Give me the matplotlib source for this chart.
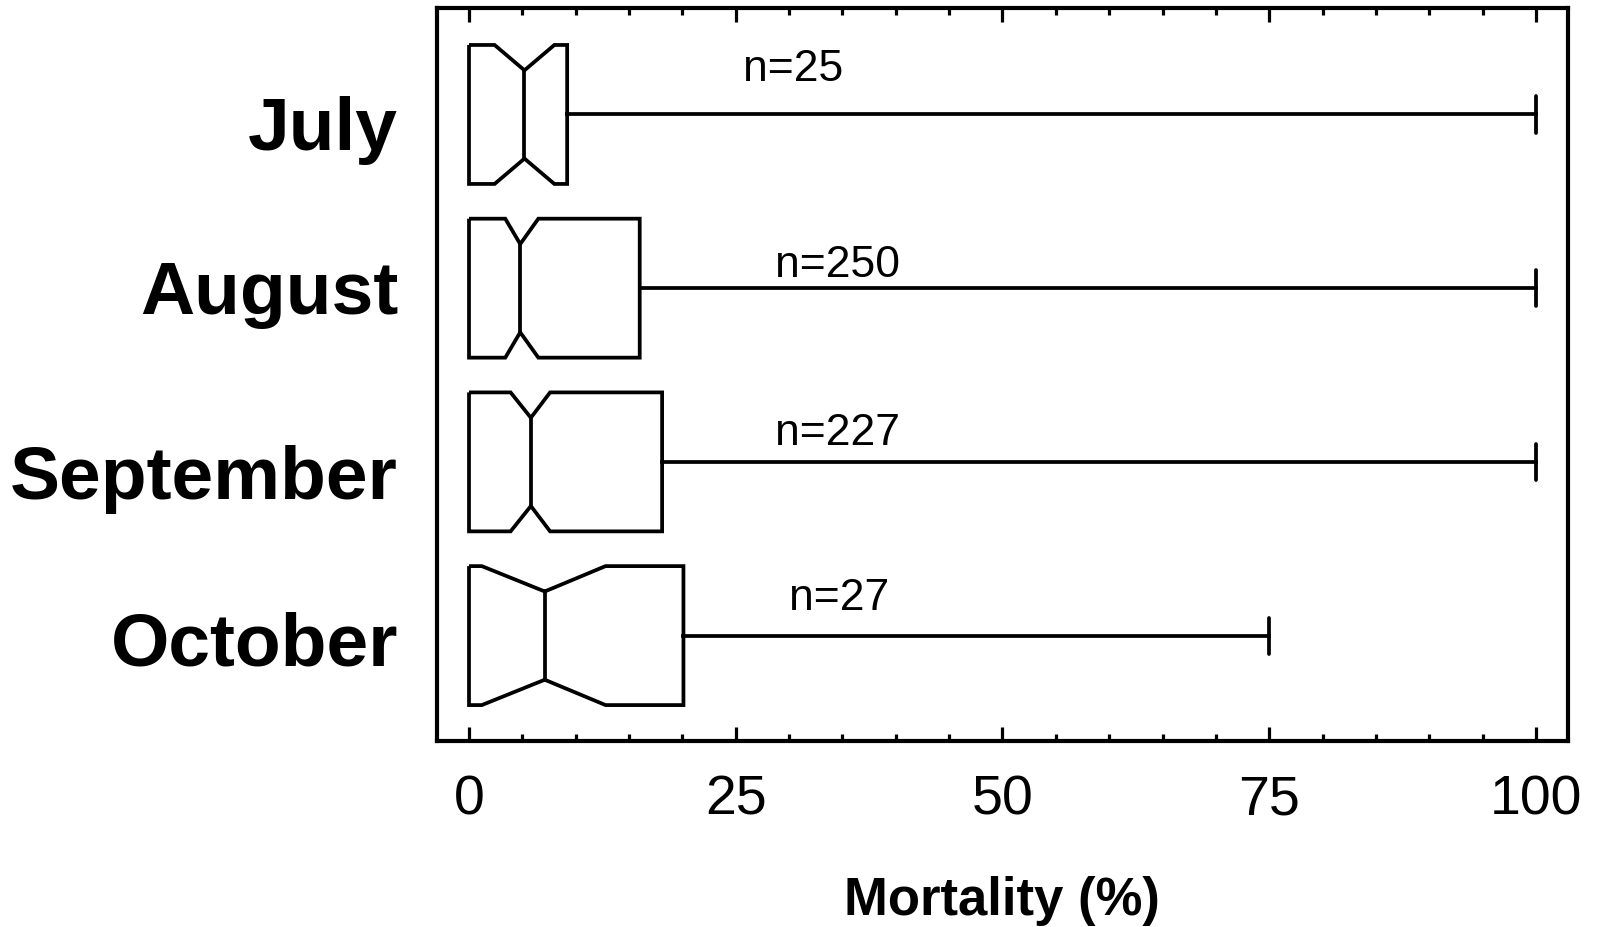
import matplotlib
matplotlib.use("Agg")
import matplotlib.pyplot as plt
from matplotlib.ticker import MultipleLocator
from matplotlib.transforms import blended_transform_factory

# ---- data ----
months = ["July", "August", "September", "October"]
q1 = [0.0, 0.0, 0.0, 0.0]
medians = [5.2, 4.8, 5.8, 7.1]
ci_low = [2.4, 3.4, 3.9, 1.2]
ci_high = [8.0, 6.5, 7.6, 12.8]
q3 = [9.2, 16.0, 18.1, 20.1]
whisker_high = [100.0, 100.0, 100.0, 75.0]
n_labels = ["n=25", "n=250", "n=227", "n=27"]

# annotation placement (x in data units, y offset from box centre)
n_x = [30.4, 34.5, 34.5, 34.7]
n_dy = [-0.19, -0.065, -0.10, -0.15]
# category label baseline offsets from box centre
label_dy = [0.204, 0.146, 0.216, 0.17]

plt.rcParams['font.family'] = ['Liberation Sans', 'DejaVu Sans']

fig = plt.figure(figsize=(16.06, 9.27), dpi=100)
ax = fig.add_axes([0.2721, 0.2006, 0.9763 - 0.2721, 0.9914 - 0.2006])

width = 0.80
waist = 0.635   # notch waist as fraction of box width
capfrac = 0.26
lw = 2.7
positions = list(range(1, len(months) + 1))

for pos, a, lo, m, hi, b, wh in zip(positions, q1, ci_low, medians, ci_high, q3, whisker_high):
    top = pos - width / 2
    bot = pos + width / 2
    wt = pos - width * waist / 2
    wb = pos + width * waist / 2
    xs = [a, lo, m, hi, b, b, hi, m, lo, a, a]
    ys = [top, top, wt, top, top, bot, bot, wb, bot, bot, top]
    ax.plot(xs, ys, color='black', lw=lw, solid_joinstyle='miter', solid_capstyle='butt')
    ax.plot([m, m], [wt, wb], color='black', lw=lw)
    ax.plot([b, wh], [pos, pos], color='black', lw=lw)
    ax.plot([wh, wh], [pos - width * capfrac / 2, pos + width * capfrac / 2],
            color='black', lw=lw, solid_capstyle='round')

for pos, lab, x, dy in zip(positions, n_labels, n_x, n_dy):
    ax.text(x, pos + dy, lab, fontsize=32, ha='center', va='baseline')

ax.set_xlim(-3, 103)
ax.set_ylim(4.607, 0.387)
ax.set_yticks([])

trans = blended_transform_factory(ax.transAxes, ax.transData)
for pos, lab, dy in zip(positions, months, label_dy):
    ax.text(-0.0345, pos + dy, lab, transform=trans, fontsize=54, fontweight='bold',
            ha='right', va='baseline')

ax.xaxis.set_major_locator(MultipleLocator(25))
ax.xaxis.set_minor_locator(MultipleLocator(5))
ax.tick_params(axis='x', which='both', direction='in', top=True, bottom=True,
               width=2.3, labelsize=40, pad=24)
ax.tick_params(axis='x', which='major', length=10)
ax.tick_params(axis='x', which='minor', length=5)

for sp in ax.spines.values():
    sp.set_linewidth(3.0)

fig.text(1002 / 1606, 1 - 915 / 927, "Mortality (%)", fontsize=38, fontweight='bold',
         ha='center', va='baseline')

fig.savefig("out.png", dpi=100)
